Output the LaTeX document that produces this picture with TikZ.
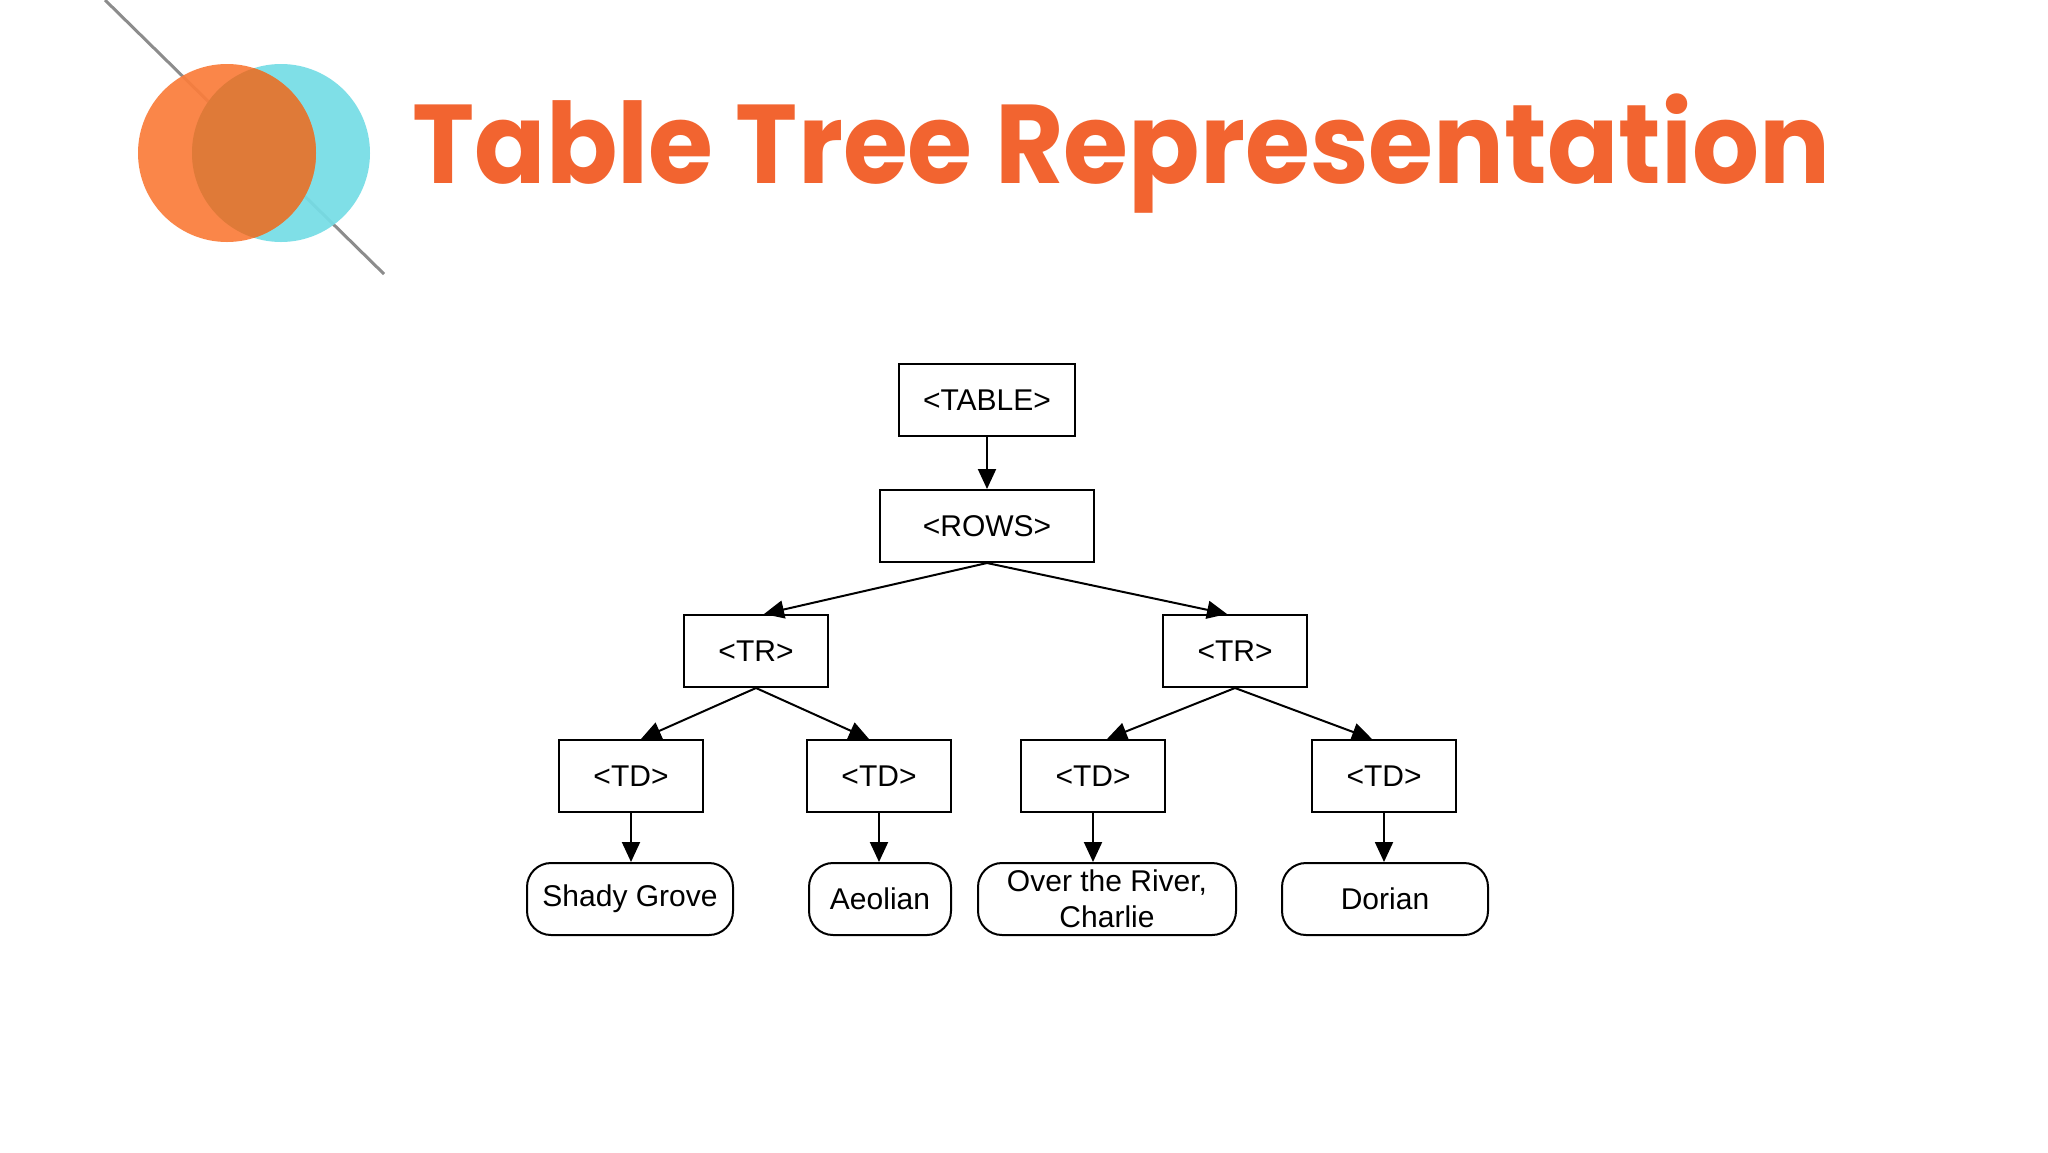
\documentclass[tikz,border=0pt]{standalone}
\usepackage{fontspec}
\setmainfont{Liberation Sans}
\newfontfamily\titlefont{Poppins}
\usetikzlibrary{arrows.meta,positioning}

\definecolor{titleorange}{HTML}{F26430}
\definecolor{dotorange}{HTML}{FA7D3C}
\definecolor{dotcyan}{HTML}{76DDE6}
\definecolor{dotmix}{HTML}{DF7A38}
\definecolor{slashgray}{HTML}{8C8C8C}

\tikzset{
  tagbox/.style={draw, line width=1pt, minimum width=72pt, minimum height=36pt,
    inner sep=2pt, font=\fontsize{15}{18}\selectfont},
  leafbox/.style={tagbox, rounded corners=12pt},
  link/.style={line width=1pt, -{Triangle[width=9pt,length=10pt]}},
}

\begin{document}
\begin{tikzpicture}[x=0.5pt, y=-0.5pt]
        \fill[white] (0,0) rectangle (2048,1152);
        \useasboundingbox (0,0) rectangle (2048,1152);

        % Logo
        \draw[slashgray, line width=1.5pt] (105,0) -- (384,274);
        \fill[dotcyan, opacity=0.93] (281,153) circle (89);
        \fill[dotorange, opacity=0.93] (227,153) circle (89);
        \begin{scope}
          \clip (227,153) circle (89);
          \fill[dotmix] (281,153) circle (89);
        \end{scope}

        % Titel
        \node[anchor=base west, inner sep=0pt, text=titleorange,
          font=\titlefont\bfseries\fontsize{56}{60}\selectfont] (title) at (412,183)
          {\scalebox{0.94}[1]{Table Tree Representation}};

        % Tabel en rijen
        \node[tagbox, minimum width=88pt] (table) at (987,400) {<TABLE>};
        \node[tagbox, minimum width=107pt] (rows) at (987,526) {<ROWS>};

        % Rijen
        \node[tagbox] (trl) at (756,651) {<TR>};
        \node[tagbox] (trr) at (1235,651) {<TR>};

        % Cellen
        \node[tagbox] (tda) at (631,776) {<TD>};
        \node[tagbox] (tdb) at (879,776) {<TD>};
        \node[tagbox] (tdc) at (1093,776) {<TD>};
        \node[tagbox] (tdd) at (1384,776) {<TD>};

        % Inhoud
        \node[leafbox, minimum width=103pt] (shady) at (630,899) {Shady Grove};
        \node[leafbox, minimum width=71pt] (aeolian) at (880,899) {Aeolian};
        \node[leafbox, minimum width=129pt, align=center, inner sep=0pt] (river) at (1107,899)
          {Over the River,\\Charlie};
        \node[leafbox, minimum width=103pt] (dorian) at (1385,899) {Dorian};

        % Pijlen
        \draw[link] (table.south) -- (rows.north);
        \draw[link] (rows.south) -- ([xshift=4pt]trl.north);
        \draw[link] (rows.south) -- ([xshift=-4pt]trr.north);
        \draw[link] (trl.south) -- ([xshift=5pt]tda.north);
        \draw[link] (trl.south) -- ([xshift=-5pt]tdb.north);
        \draw[link] (trr.south) -- ([xshift=7pt]tdc.north);
        \draw[link] (trr.south) -- ([xshift=-6pt]tdd.north);
        \draw[link] (tda.south) -- (tda.south |- shady.north);
        \draw[link] (tdb.south) -- (tdb.south |- aeolian.north);
        \draw[link] (tdc.south) -- (tdc.south |- river.north);
        \draw[link] (tdd.south) -- (tdd.south |- dorian.north);
    \end{tikzpicture}
\end{document}
